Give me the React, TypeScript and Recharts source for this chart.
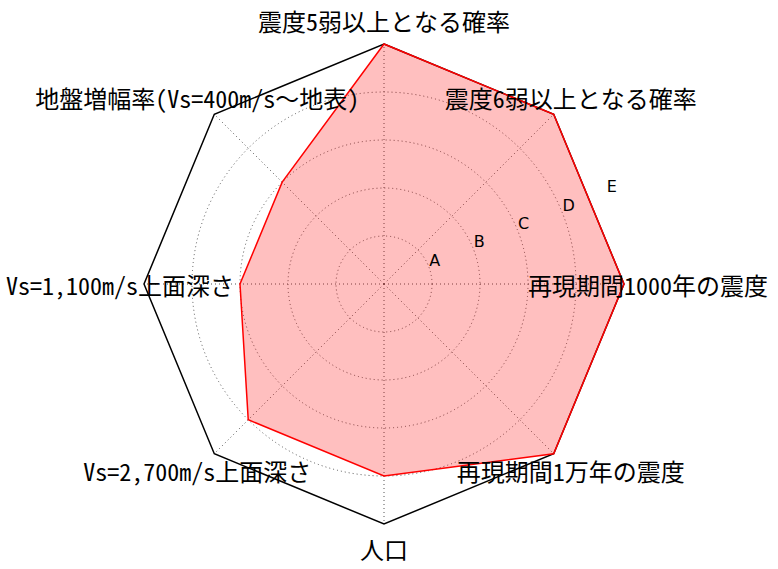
import { RadarChart, Radar, PolarGrid, PolarAngleAxis, PolarRadiusAxis } from "recharts";

const axisLabels = [
  "震度5弱以上となる確率",
  "震度6弱以上となる確率",
  "再現期間1000年の震度",
  "再現期間1万年の震度",
  "人口",
  "Vs=2,700m/s上面深さ",
  "Vs=1,100m/s上面深さ",
  "地盤増幅率(Vs=400m/s～地表)",
];
const scores = [5, 5, 5, 5, 4, 4, 3, 3];
const rankLabels = ["", "A", "B", "C", "D", "E"];

const data = axisLabels.map((name, i) => ({ name, score: scores[i] }));

const CX = 384;
const CY = 284;
const R = 240;
const LABEL_R = 264;
const FONT = '"Noto Sans Mono CJK JP", "Noto Sans CJK JP", "DejaVu Sans", sans-serif';

const AngleTick = (props: any) => {
  const i = props.index;
  const a = ((90 - i * 45) * Math.PI) / 180;
  const x = CX + LABEL_R * Math.cos(a);
  const y = CY - LABEL_R * Math.sin(a);
  return (
    <text x={x} y={y} textAnchor="middle" dominantBaseline="central" fontSize={24} fill="#000" fontFamily={FONT}>
      {props.payload.value}
    </text>
  );
};

const RadiusTick = (props: any) => {
  const label = rankLabels[props.payload.value] ?? "";
  if (!label) return null;
  return (
    <text x={props.x + 1} y={props.y} textAnchor="start" fontSize={16} fill="#000" fontFamily="DejaVu Sans">
      {label}
    </text>
  );
};

export default function App() {
  return (
    <div style={{ position: "absolute", left: 0, top: 0, background: "#fff" }}>
      <RadarChart width={778} height={569} data={data} cx={CX} cy={CY} outerRadius={R} startAngle={90} endAngle={-270}>
        <PolarGrid
          gridType="circle"
          polarRadius={[48, 96, 144, 192]}
          stroke="#555"
          strokeDasharray="1 3"
          fill="none"
        />
        <Radar
          dataKey="score"
          stroke="#ff0000"
          strokeWidth={1.5}
          fill="#ff0000"
          fillOpacity={0.25}
          isAnimationActive={false}
        />
        <PolarGrid gridType="polygon" polarRadius={[R]} radialLines={false} stroke="#000" strokeWidth={1.5} fill="none" />
        <PolarAngleAxis dataKey="name" tick={AngleTick} axisLine={false} tickLine={false} />
        <PolarRadiusAxis
          angle={22.5}
          domain={[0, 5]}
          tickCount={6}
          axisLine={false}
          tickLine={false}
          tick={RadiusTick}
        />
      </RadarChart>
    </div>
  );
}
